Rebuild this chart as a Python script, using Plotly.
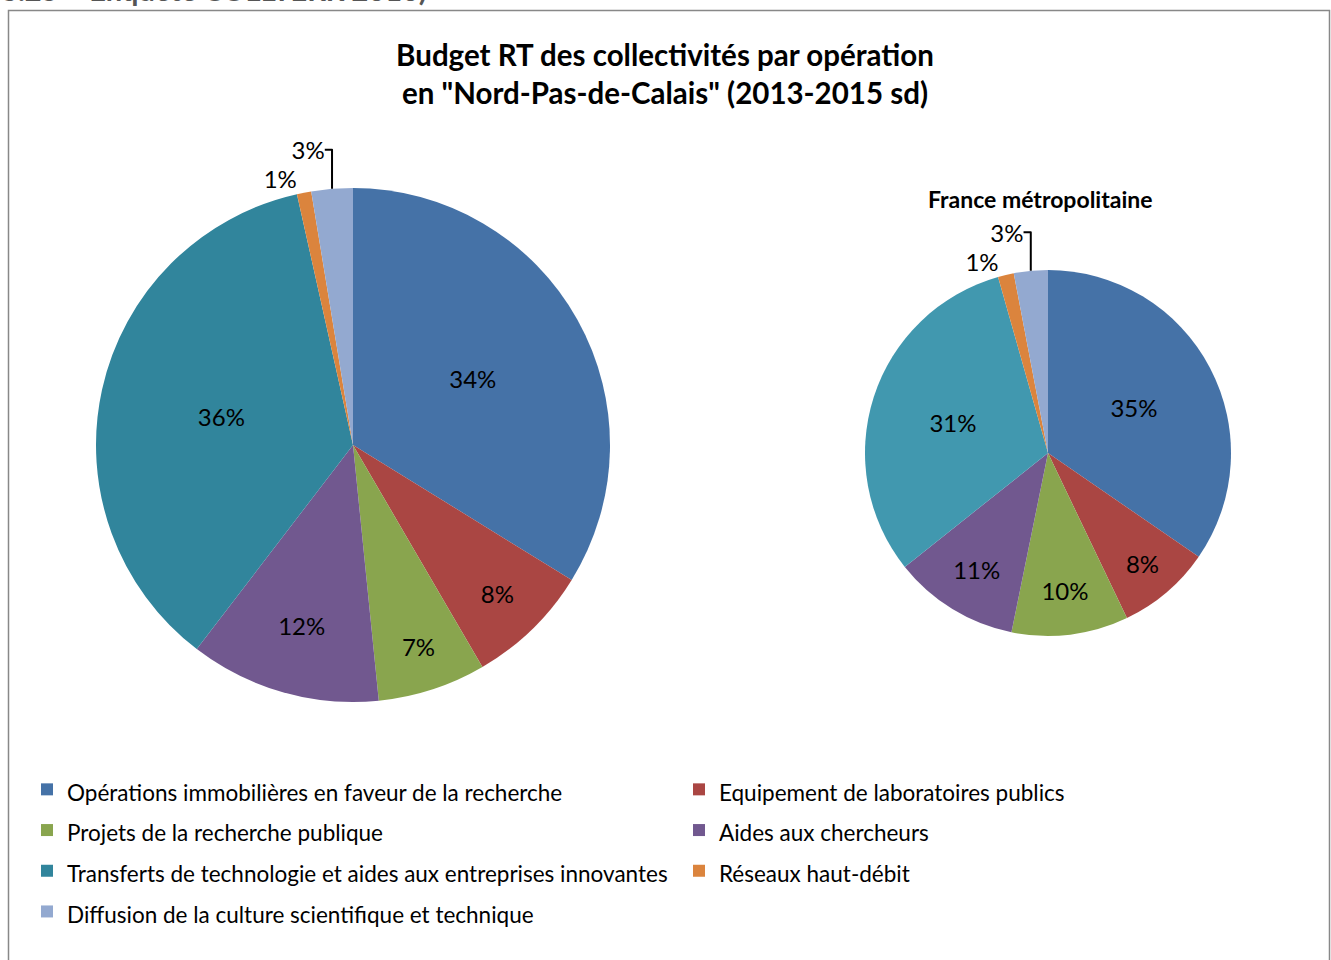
import plotly.graph_objects as go

categories = [
    "Opérations immobilières en faveur de la recherche",
    "Equipement de laboratoires publics",
    "Projets de la recherche publique",
    "Aides aux chercheurs",
    "Transferts de technologie et aides aux entreprises innovantes",
    "Réseaux haut-débit",
    "Diffusion de la culture scientifique et technique",
]
npdc_values = [33.8, 7.8, 6.8, 12.0, 36.1, 0.9, 2.6]
france_values = [34.6, 8.3, 10.3, 11.1, 31.3, 1.4, 3.0]

colors_left = ["#4572A7", "#AA4643", "#89A54E", "#71588F", "#31859C", "#DB843D", "#93A9D0"]
colors_right = ["#4572A7", "#AA4643", "#89A54E", "#71588F", "#4198AF", "#DB843D", "#93A9D0"]

title_text = 'Budget RT des collectivités par opération<br>en "Nord-Pas-de-Calais" (2013-2015 sd)'
subtitle_text = "France métropolitaine"
source_text = "S.25 – Enquête COLLTERR 2016)"

W, H = 1331, 960
FONT = "Lato"

legend_labels = [f'<span style="font-size:22.5px">{c}</span>' for c in categories]

fig = go.Figure()

fig.add_trace(go.Pie(
    labels=legend_labels,
    values=npdc_values,
    sort=False,
    direction="clockwise",
    rotation=0,
    marker=dict(colors=colors_left, line=dict(width=0)),
    texttemplate="%{percent:.0%}",
    textposition=["inside"] * 5 + ["outside", "outside"],
    insidetextorientation="horizontal",
    textfont=dict(family=FONT, size=24, color="#000000"),
    domain=dict(x=[96 / W, 610 / W], y=[258 / H, 772 / H]),
    hoverinfo="label+percent",
    showlegend=True,
))

fig.add_trace(go.Pie(
    labels=legend_labels,
    values=france_values,
    sort=False,
    direction="clockwise",
    rotation=0,
    marker=dict(colors=colors_right, line=dict(width=0)),
    texttemplate="%{percent:.0%}",
    textposition=["inside"] * 5 + ["outside", "outside"],
    insidetextorientation="horizontal",
    textfont=dict(family=FONT, size=24, color="#000000"),
    domain=dict(x=[865 / W, 1231 / W], y=[324 / H, 690 / H]),
    hoverinfo="label+percent",
    showlegend=False,
))

fig.update_layout(
    width=W, height=H,
    margin=dict(l=0, r=0, t=0, b=0),
    paper_bgcolor="white",
    plot_bgcolor="white",
    font=dict(family=FONT, color="#000000"),
    title=dict(
        text=title_text,
        x=665 / W, xanchor="center",
        y=1 - 66 / H, yanchor="middle",
        font=dict(family=FONT, size=29.5, color="#000000", weight="bold"),
    ),
    legend=dict(
        orientation="h",
        x=30 / W, xanchor="left",
        y=1 - 764 / H, yanchor="top",
        entrywidth=607, entrywidthmode="pixels",
        font=dict(family=FONT, size=29, color="#000000"),
        itemwidth=30,
        traceorder="normal",
        bgcolor="rgba(0,0,0,0)",
    ),
    annotations=[
        dict(
            text=subtitle_text, showarrow=False,
            xref="paper", yref="paper",
            x=1040 / W, y=1 - 199 / H, xanchor="center", yanchor="middle",
            font=dict(family=FONT, size=23, color="#000000", weight="bold"),
        ),
        dict(
            text=source_text, showarrow=False,
            xref="paper", yref="paper",
            x=0, y=1 - 9 / H, xanchor="left", yanchor="bottom",
            font=dict(family=FONT, size=29, color="#555555", weight="bold"),
        ),
    ],
    shapes=[
        dict(
            type="rect", xref="paper", yref="paper",
            x0=8.5 / W, x1=1329.5 / W, y0=-0.01, y1=1 - 10.5 / H,
            line=dict(color="#888888", width=1.5),
            fillcolor="rgba(0,0,0,0)", layer="above",
        )
    ],
)

fig.write_html("out.html")
